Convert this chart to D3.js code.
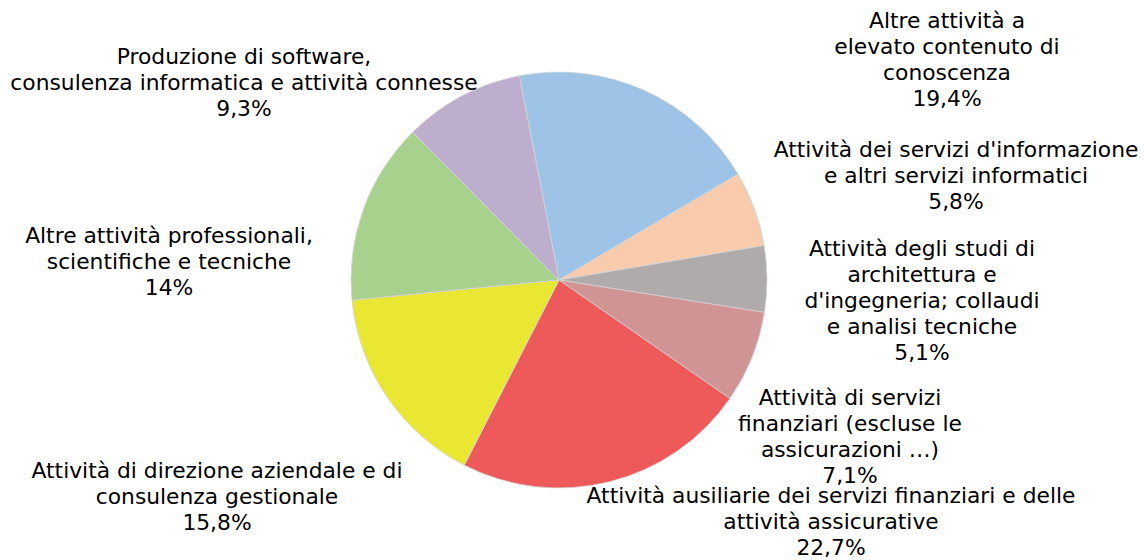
<!DOCTYPE html>
<html>
<head>
<meta charset="utf-8">
<script src="https://cdn.jsdelivr.net/npm/d3@7"></script>
<style>
  html, body { margin: 0; padding: 0; background: #fff; }
  svg { display: block; }
  text { font-family: "DejaVu Sans", Verdana, sans-serif; fill: #000; }
</style>
</head>
<body>
<svg id="chart" width="1144" height="560"></svg>
<script>
// Sectors, clockwise from the top
const categories = [
  "Altre attività a elevato contenuto di conoscenza",
  "Attività dei servizi d'informazione e altri servizi informatici",
  "Attività degli studi di architettura e d'ingegneria; collaudi e analisi tecniche",
  "Attività di servizi finanziari (escluse le assicurazioni …)",
  "Attività ausiliarie dei servizi finanziari e delle attività assicurative",
  "Attività di direzione aziendale e di consulenza gestionale",
  "Altre attività professionali, scientifiche e tecniche",
  "Produzione di software, consulenza informatica e attività connesse"
];
const values = [19.4, 5.8, 5.1, 7.1, 22.7, 15.8, 14, 9.3];
const valueLabels = ["19,4%", "5,8%", "5,1%", "7,1%", "22,7%", "15,8%", "14%", "9,3%"];

// Wrapped label lines as shown next to each sector
const labelLines = [
  ["Altre attività a", "elevato contenuto di", "conoscenza"],
  ["Attività dei servizi d'informazione", "e altri servizi informatici"],
  ["Attività degli studi di", "architettura e", "d'ingegneria; collaudi", "e analisi tecniche"],
  ["Attività di servizi", "finanziari (escluse le", "assicurazioni …)"],
  ["Attività ausiliarie dei servizi finanziari e delle", "attività assicurative"],
  ["Attività di direzione aziendale e di", "consulenza gestionale"],
  ["Altre attività professionali,", "scientifiche e tecniche"],
  ["Produzione di software,", "consulenza informatica e attività connesse"]
];

const colors = ["#9dc3e6", "#f8cbad", "#afabab", "#d09494", "#ee5a5a", "#eae733", "#a9d18e", "#bdaecd"];

// Layout
const cx = 559, cy = 280, radius = 208;
const startDeg = -11;
const lineH = 26;
const fontSize = 21.8;
// label block centre x and first baseline y
const labelAnchors = [
  [947, 28], [956, 157], [922, 256], [850, 405],
  [831, 503], [217, 478], [169, 243], [244, 64]
];

const svg = d3.select("#chart");
const color = d3.scaleOrdinal().domain(categories).range(colors);

const pie = d3.pie()
  .value(d => d.value)
  .sort(null)
  .startAngle(startDeg * Math.PI / 180)
  .endAngle(startDeg * Math.PI / 180 + 2 * Math.PI);

const data = categories.map((c, i) => ({ name: c, value: values[i], i }));
const arc = d3.arc().innerRadius(0).outerRadius(radius);

const g = svg.append("g").attr("transform", `translate(${cx},${cy})`);
g.selectAll("path")
  .data(pie(data))
  .join("path")
  .attr("d", arc)
  .attr("fill", d => color(d.data.name))
  .attr("stroke", "#d4d4d4")
  .attr("stroke-width", 0.8);

const labels = svg.append("g")
  .selectAll("text")
  .data(data)
  .join("text")
  .attr("text-anchor", "middle")
  .attr("font-size", fontSize)
  .attr("transform", d => `translate(${labelAnchors[d.i][0]},${labelAnchors[d.i][1]})`);

labels.each(function(d) {
  const t = d3.select(this);
  const lines = labelLines[d.i].concat([valueLabels[d.i]]);
  lines.forEach((l, k) => {
    t.append("tspan").attr("x", 0).attr("y", k * lineH).text(l);
  });
});
</script>
</body>
</html>
